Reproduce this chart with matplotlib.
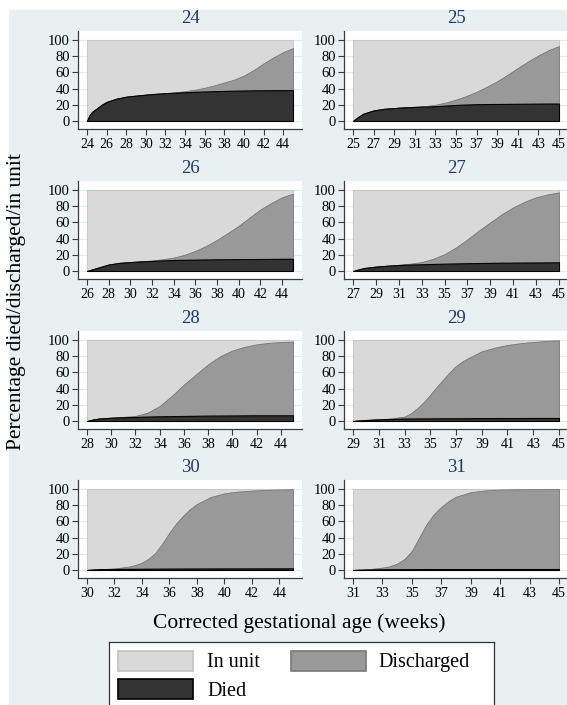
import matplotlib
matplotlib.use("Agg")
import matplotlib.pyplot as plt
from matplotlib.patches import Rectangle

plt.rcParams["font.family"] = ["Liberation Serif", "DejaVu Serif"]

# cumulative percentages: died, and died + discharged
weeks_24 = [24, 24.25, 24.5, 25, 25.5, 26, 27, 28, 29, 30, 31, 32, 33, 34, 35, 36, 37, 38, 39, 40, 41, 42, 43, 44, 45]
died_24 = [0, 7, 11, 15.5, 20, 23.5, 27.5, 30, 31.3, 32.5, 33.5, 34.3, 35, 35.5, 36, 36.4, 36.8, 37.1, 37.4, 37.6, 37.8, 37.9, 38, 38, 38]
gone_24 = [0, 7, 11, 15.5, 20, 23.5, 27.5, 30, 31.3, 32.5, 33.5, 34.3, 35.2, 36.8, 38.5, 41, 44, 47.5, 51, 56, 63, 71, 78.5, 85, 90]

weeks_25 = [25, 25.5, 26, 27, 28, 29, 30, 31, 32, 33, 34, 35, 36, 37, 38, 39, 40, 41, 42, 43, 44, 45]
died_25 = [0, 5, 9, 13, 15, 16, 16.8, 17.4, 17.8, 18.2, 19, 19.8, 20.3, 20.7, 20.9, 21, 21.1, 21.2, 21.3, 21.4, 21.5, 21.5]
gone_25 = [0, 5, 9, 13, 15, 16, 16.8, 17.4, 18.3, 20, 22.7, 26.4, 30.8, 36, 42.3, 49, 57, 65.5, 73.5, 81, 87.5, 92.5]

weeks_26 = [26, 26.5, 27, 28, 29, 30, 31, 32, 33, 34, 35, 36, 37, 38, 39, 40, 41, 42, 43, 44, 45]
died_26 = [0, 2, 4, 8, 10, 11, 11.8, 12.4, 13, 13.6, 13.8, 14, 14.2, 14.4, 14.5, 14.6, 14.7, 14.8, 14.9, 15, 15]
gone_26 = [0, 2, 4, 8, 10, 11, 11.9, 13, 14.5, 16.5, 20, 24.8, 31, 38.4, 47, 55.8, 66, 76, 84, 91, 95.5]

weeks_27 = [27, 27.5, 28, 29, 30, 31, 32, 33, 34, 35, 36, 37, 38, 39, 40, 41, 42, 43, 44, 45]
died_27 = [0, 2, 3.7, 5.4, 6.5, 7.4, 7.9, 8.3, 8.7, 9, 9.3, 9.6, 9.8, 10, 10.2, 10.3, 10.4, 10.5, 10.6, 10.7]
gone_27 = [0, 2, 3.7, 5.4, 6.5, 7.6, 9, 11, 15, 20.7, 29, 39, 50, 60, 70, 78.5, 85.5, 91, 94.5, 97]

weeks_28 = [28, 28.5, 29, 30, 31, 32, 33, 34, 35, 36, 37, 38, 39, 40, 41, 42, 43, 44, 45]
died_28 = [0, 1.8, 3, 4, 4.6, 5, 5.4, 5.8, 6, 6.2, 6.4, 6.6, 6.7, 6.8, 6.9, 7, 7, 7, 7]
gone_28 = [0, 1.8, 3, 4, 5, 6.2, 10.3, 18.5, 31, 45, 57.6, 70, 80, 87, 91.5, 94.6, 96.5, 97.5, 98]

weeks_29 = [29, 30, 31, 32, 33, 33.5, 34, 34.5, 35, 35.5, 36, 36.5, 37, 37.5, 38, 39, 40, 41, 42, 43, 44, 45]
died_29 = [0, 1.2, 2, 2.6, 3, 3.05, 3.1, 3.15, 3.2, 3.25, 3.3, 3.3, 3.3, 3.35, 3.4, 3.5, 3.5, 3.6, 3.6, 3.7, 3.7, 3.7]
gone_29 = [0, 1.2, 2, 3, 5.4, 9.5, 15.7, 23.5, 32.4, 42, 51, 60, 67.8, 73.5, 78, 86, 90.5, 93.8, 96, 97.5, 98.8, 99.5]

weeks_30 = [30, 31, 32, 33, 33.5, 34, 34.5, 35, 35.5, 36, 36.5, 37, 37.5, 38, 39, 40, 41, 42, 43, 44, 45]
died_30 = [0, 1, 1.3, 1.4, 1.45, 1.5, 1.55, 1.6, 1.65, 1.7, 1.7, 1.75, 1.8, 1.8, 1.85, 1.9, 1.9, 1.95, 2, 2, 2]
gone_30 = [0, 1, 1.8, 4, 6, 9, 14, 21.5, 33, 46, 57.5, 67, 75, 81.4, 90, 94.6, 96.8, 98, 98.8, 99.3, 99.6]

weeks_31 = [31, 32, 33, 33.5, 34, 34.5, 35, 35.5, 36, 36.5, 37, 37.5, 38, 39, 40, 41, 42, 43, 44, 45]
died_31 = [0, 0.5, 0.8, 0.85, 0.9, 0.9, 0.95, 1, 1, 1, 1.05, 1.1, 1.1, 1.1, 1.15, 1.2, 1.2, 1.2, 1.2, 1.2]
gone_31 = [0, 0.8, 2.9, 4.5, 7.8, 13.5, 23.5, 40, 56.6, 69, 78, 85, 90.5, 96, 98.2, 99.2, 99.6, 99.8, 99.9, 100]

panels = [(24, weeks_24, died_24, gone_24), (25, weeks_25, died_25, gone_25),
          (26, weeks_26, died_26, gone_26), (27, weeks_27, died_27, gone_27),
          (28, weeks_28, died_28, gone_28), (29, weeks_29, died_29, gone_29),
          (30, weeks_30, died_30, gone_30), (31, weeks_31, died_31, gone_31)]
labels = ["In unit", "Discharged", "Died"]

BG = "#e8f0f2"
NAVY = "#22386a"
C_UNIT, E_UNIT = "#d9d9d9", "#c2c2c2"
C_DIS, E_DIS = "#999999", "#787878"
C_DIED, E_DIED = "#333333", "#000000"
AX = "#3c3c3c"

W, H = 567, 705
fig = plt.figure(figsize=(W / 100, H / 100), dpi=100, facecolor="white")
fig.patches.append(Rectangle((9 / W, 0), 1, 1 - 10 / H, transform=fig.transFigure,
                             color=BG, zorder=-10))

col_x = [78, 344]
row_top = [31, 181, 331, 480]
aw, ah = 224, 98

for i, (ga, wk, died, gone) in enumerate(panels):
    r, c = divmod(i, 2)
    ax = fig.add_axes([col_x[c] / W, 1 - (row_top[r] + ah) / H, aw / W, ah / H])
    ax.set_facecolor("white")
    span = wk[-1] - wk[0]
    pad = span * 9 / 206
    ax.set_xlim(wk[0] - pad, wk[-1] + pad)
    ax.set_ylim(-9.9, 111.1)
    for yv in range(0, 101, 20):
        ax.axhline(yv, color="#e1eaee", lw=0.9, zorder=0)
    ax.fill_between(wk, gone, 100, facecolor=C_UNIT, edgecolor=E_UNIT, lw=0.6, zorder=1)
    ax.fill_between(wk, died, gone, facecolor=C_DIS, edgecolor=E_DIS, lw=0.6, zorder=2)
    ax.fill_between(wk, 0, died, facecolor=C_DIED, edgecolor=E_DIED, lw=0.8, zorder=3)
    ax.set_xticks(range(ga, 46, 2))
    ax.set_yticks(range(0, 101, 20))
    for s in ("top", "right"):
        ax.spines[s].set_visible(False)
    for s in ("left", "bottom"):
        ax.spines[s].set_color(AX)
        ax.spines[s].set_linewidth(0.9)
    ax.tick_params(axis="y", length=4.3, width=0.8, color=AX, pad=1.5, labelsize=10.5)
    ax.tick_params(axis="x", length=4.3, width=0.8, color=AX, pad=2.5, labelsize=10)
    ax.text(0.5, 1 + 8 / ah, str(ga), transform=ax.transAxes, ha="center", va="baseline",
            fontsize=13.5, color=NAVY)

fig.text(17 / W, 1 - 302 / H, "Percentage died/discharged/in unit", rotation=90,
         ha="center", va="center", fontsize=15.5)
fig.text(299 / W, 1 - 623 / H, "Corrected gestational age (weeks)",
         ha="center", va="center", fontsize=15.5)

# legend box, cut off at the bottom like the source
lx0, lx1, ly0 = 109, 494, 642
lax = fig.add_axes([lx0 / W, 0, (lx1 - lx0) / W, (H - ly0) / H])
lax.set_xlim(0, lx1 - lx0)
lax.set_ylim(H - ly0, 0)
lax.set_xticks([])
lax.set_yticks([])
lax.set_facecolor("white")
lax.spines["bottom"].set_visible(False)
for s in ("left", "right", "top"):
    lax.spines[s].set_color("#333333")
    lax.spines[s].set_linewidth(0.9)
swatches = [((9, 9), C_UNIT, E_UNIT, (98, 25)),
            ((182, 9), C_DIS, E_DIS, (269, 25)),
            ((9, 37), C_DIED, E_DIED, (98, 54))]
for lab, ((sx, sy), fc, ec, (tx, ty)) in zip(labels, swatches):
    lax.add_patch(Rectangle((sx, sy), 75, 20, facecolor=fc, edgecolor=ec, lw=1.2))
    lax.text(tx, ty, lab, ha="left", va="baseline", fontsize=14.5)

fig.savefig("out.png", dpi=100, facecolor="white")
